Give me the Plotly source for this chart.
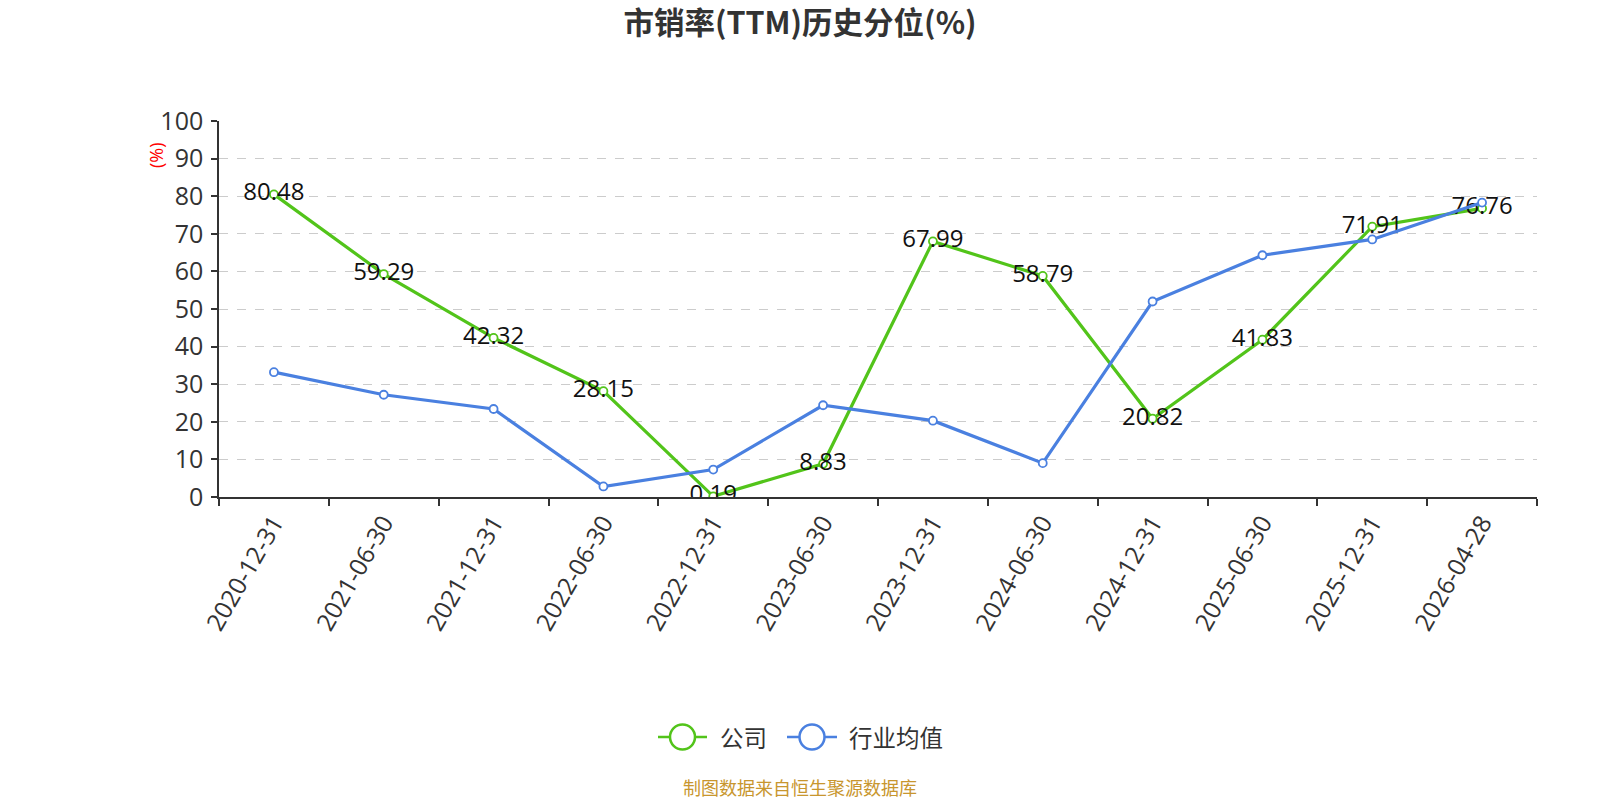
import plotly.graph_objects as go

dates = ["2020-12-31", "2021-06-30", "2021-12-31", "2022-06-30", "2022-12-31", "2023-06-30",
         "2023-12-31", "2024-06-30", "2024-12-31", "2025-06-30", "2025-12-31", "2026-04-28"]
company = [80.48, 59.29, 42.32, 28.15, 0.19, 8.83, 67.99, 58.79, 20.82, 41.83, 71.91, 76.76]
industry = [33.2, 27.2, 23.4, 2.8, 7.3, 24.4, 20.3, 9.0, 52.0, 64.3, 68.5, 78.3]
series_names = ["公司", "行业均值"]

GREEN = "#52c41a"
BLUE = "#4a80e0"
CJK = "Noto Sans CJK SC"
LAT = "Open Sans, Noto Sans CJK SC"

W, H = 1600, 800
L, R, T, B = 219, 63, 121, 303
PW, PH = W - L - R, H - T - B

fig = go.Figure()
fig.add_trace(go.Scatter(
    x=dates, y=company, name=series_names[0], mode="lines+markers+text",
    line=dict(color=GREEN, width=3.2),
    marker=dict(symbol="circle", size=8, color="white", line=dict(color=GREEN, width=1.8)),
    text=[f"{v:.2f}" for v in company], textposition="middle center",
    textfont=dict(size=24, color="#111", family=LAT),
    showlegend=False,
))
fig.add_trace(go.Scatter(
    x=dates, y=industry, name=series_names[1], mode="lines+markers",
    line=dict(color=BLUE, width=3.2),
    marker=dict(symbol="circle", size=8, color="white", line=dict(color=BLUE, width=1.8)),
    showlegend=False,
))

fig.update_layout(
    width=W, height=H,
    margin=dict(l=L, r=R, t=T, b=B),
    paper_bgcolor="white", plot_bgcolor="white",
    font=dict(family=LAT, color="#333"),
    title=dict(text="<b>市销率(TTM)历史分位(%)</b>", x=0.5, xanchor="center",
               y=1 - 23 / H, yanchor="middle", font=dict(size=30.5, color="#333", family=CJK)),
    xaxis=dict(type="category", range=[-0.5, len(dates) - 0.5], tickson="boundaries",
               ticks="outside", ticklen=7, tickcolor="#333", tickwidth=1.5,
               showline=True, linecolor="#333", linewidth=1.5,
               showgrid=False, tickangle=-60, tickfont=dict(size=24.5, color="#333", family=LAT),
               zeroline=False),
    yaxis=dict(range=[0, 100], dtick=10, ticks="outside", ticklen=6, tickcolor="#333",
               tickwidth=1.5, showline=True, linecolor="#333", linewidth=1.5,
               showgrid=True, gridcolor="#cccccc", griddash="dash", gridwidth=1.2,
               tickfont=dict(size=25, color="#333", family=LAT), zeroline=False,
               ticklabelstandoff=3),
)


def px_x(x):
    return (x - L) / PW


def px_y(y):
    return (H - B - y) / PH


fig.add_annotation(text="(%)", xref="paper", yref="paper", x=px_x(156), y=px_y(155),
                   textangle=-90, showarrow=False, xanchor="center", yanchor="middle",
                   font=dict(size=18, color="red", family=LAT))

# custom legend (large open circle symbols)
legend_items = [(658, 707, series_names[0], GREEN, 718), (787, 837, series_names[1], BLUE, 847)]
ly = 737
for x0, x1, name, col, tx in legend_items:
    fig.add_shape(type="line", xref="paper", yref="paper", x0=px_x(x0), x1=px_x(x1),
                  y0=px_y(ly), y1=px_y(ly), line=dict(color=col, width=2.5))
    cx = (x0 + x1) / 2
    r = 12.5
    fig.add_shape(type="circle", xref="paper", yref="paper",
                  x0=px_x(cx - r), x1=px_x(cx + r), y0=px_y(ly + r), y1=px_y(ly - r),
                  line=dict(color=col, width=2.5), fillcolor="white")
    fig.add_annotation(text=name, xref="paper", yref="paper", x=px_x(tx), y=px_y(ly),
                       xanchor="left", yanchor="middle", showarrow=False,
                       font=dict(size=23.5, color="#333", family=CJK))

fig.add_annotation(text="制图数据来自恒生聚源数据库", xref="paper", yref="paper",
                   x=0.5 + (800 - (L + PW / 2)) / PW, y=px_y(787), yanchor="middle",
                   showarrow=False, font=dict(size=18, color="#c8962e", family=CJK))

fig.write_html("out.html")
